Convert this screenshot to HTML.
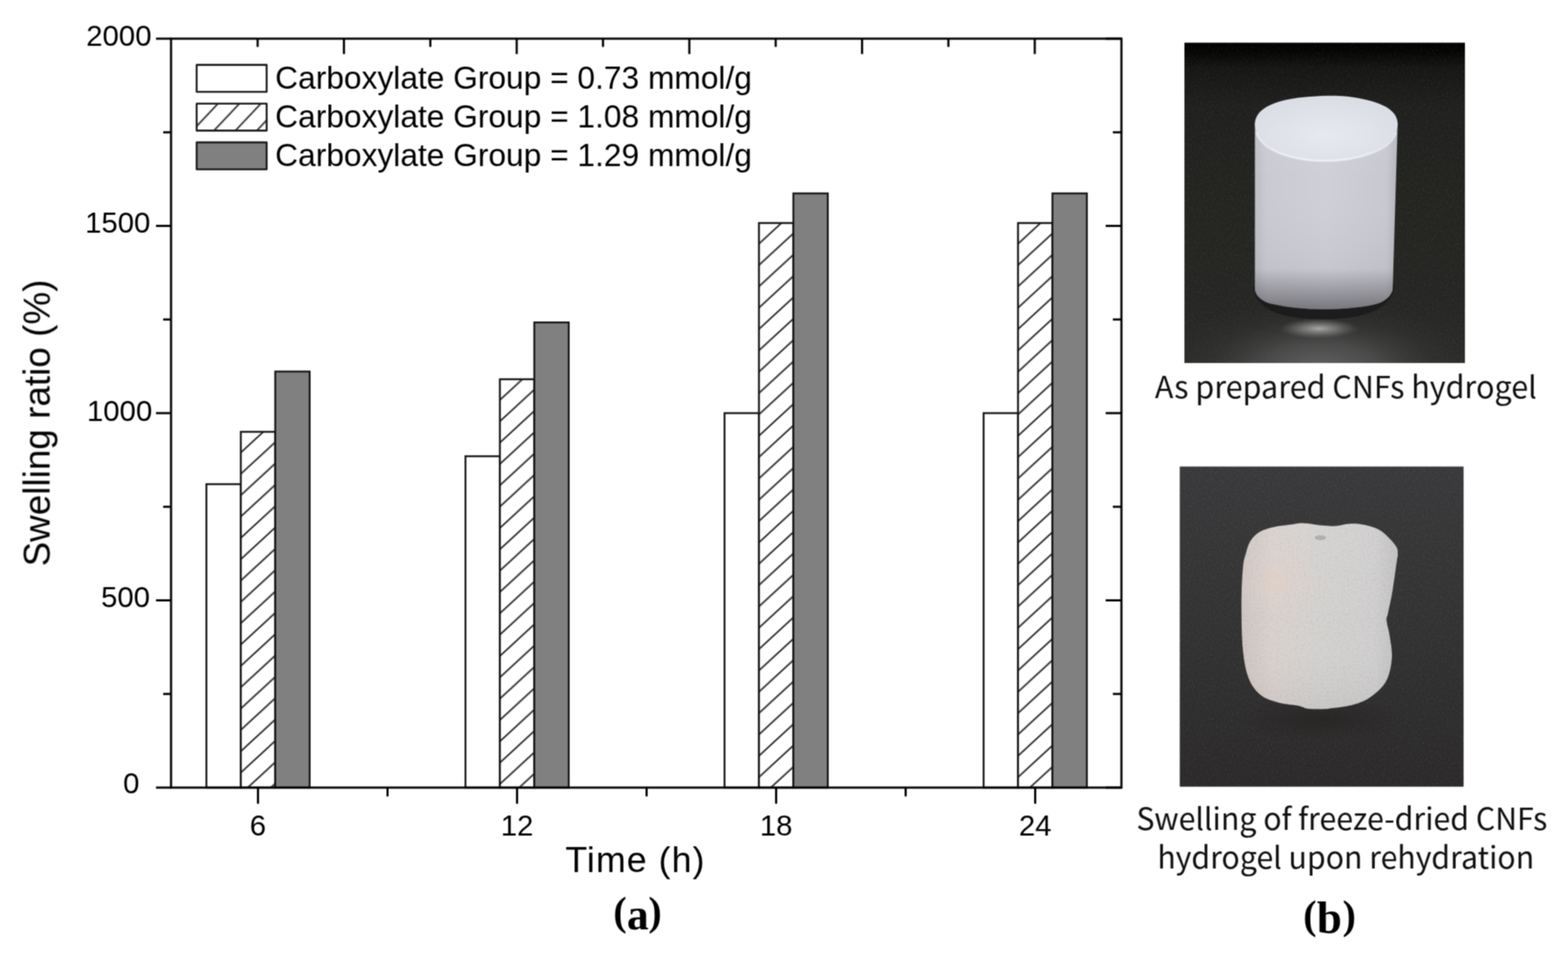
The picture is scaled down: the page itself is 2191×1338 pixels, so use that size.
<!DOCTYPE html>
<html><head><meta charset="utf-8"><title>Swelling ratio figure</title>
<style>
html,body{margin:0;padding:0;background:#fff;}
svg{display:block;}
.lt{font-family:"Liberation Sans",Arial,sans-serif;font-size:44.3px;fill:#000;}
.tk{font-family:"Liberation Sans",Arial,sans-serif;font-size:41px;fill:#000;}
.ax{font-family:"Liberation Sans",Arial,sans-serif;font-size:50px;fill:#000;}
.ayl{font-family:"Liberation Sans",Arial,sans-serif;font-size:51.5px;fill:#000;}
.pl{font-family:"Liberation Serif","Times New Roman",serif;font-size:56px;font-weight:bold;fill:#000;}
.cap{font-family:"Noto Sans CJK SC","Liberation Sans",sans-serif;font-size:42.5px;font-weight:400;fill:#111;}
</style></head><body>
<svg width="2191" height="1338" viewBox="0 0 2191 1338">
<defs>
<pattern id="h0" patternUnits="userSpaceOnUse" width="32.3210" height="29.8000" patternTransform="translate(989.754,0)"><rect x="-1" y="-1" width="34.3210" height="31.8000" fill="#fff"/><line x1="-64.642" y1="59.600" x2="32.321" y2="-29.800" stroke="#1e1e1e" stroke-width="2.1"/><line x1="-32.321" y1="59.600" x2="64.642" y2="-29.800" stroke="#1e1e1e" stroke-width="2.1"/><line x1="0.000" y1="59.600" x2="96.963" y2="-29.800" stroke="#1e1e1e" stroke-width="2.1"/></pattern><pattern id="h1" patternUnits="userSpaceOnUse" width="32.3210" height="29.8000" patternTransform="translate(1272.144,0)"><rect x="-1" y="-1" width="34.3210" height="31.8000" fill="#fff"/><line x1="-64.642" y1="59.600" x2="32.321" y2="-29.800" stroke="#1e1e1e" stroke-width="2.1"/><line x1="-32.321" y1="59.600" x2="64.642" y2="-29.800" stroke="#1e1e1e" stroke-width="2.1"/><line x1="0.000" y1="59.600" x2="96.963" y2="-29.800" stroke="#1e1e1e" stroke-width="2.1"/></pattern><pattern id="h2" patternUnits="userSpaceOnUse" width="32.3210" height="29.8000" patternTransform="translate(1397.485,0)"><rect x="-1" y="-1" width="34.3210" height="31.8000" fill="#fff"/><line x1="-64.642" y1="59.600" x2="32.321" y2="-29.800" stroke="#1e1e1e" stroke-width="2.1"/><line x1="-32.321" y1="59.600" x2="64.642" y2="-29.800" stroke="#1e1e1e" stroke-width="2.1"/><line x1="0.000" y1="59.600" x2="96.963" y2="-29.800" stroke="#1e1e1e" stroke-width="2.1"/></pattern><pattern id="h3" patternUnits="userSpaceOnUse" width="32.3210" height="29.8000" patternTransform="translate(1759.485,0)"><rect x="-1" y="-1" width="34.3210" height="31.8000" fill="#fff"/><line x1="-64.642" y1="59.600" x2="32.321" y2="-29.800" stroke="#1e1e1e" stroke-width="2.1"/><line x1="-32.321" y1="59.600" x2="64.642" y2="-29.800" stroke="#1e1e1e" stroke-width="2.1"/><line x1="0.000" y1="59.600" x2="96.963" y2="-29.800" stroke="#1e1e1e" stroke-width="2.1"/></pattern><pattern id="hl" patternUnits="userSpaceOnUse" width="29.9528" height="31.7500" patternTransform="translate(411.168,0)"><rect x="-1" y="-1" width="31.9528" height="33.7500" fill="#fff"/><line x1="-59.906" y1="63.500" x2="29.953" y2="-31.750" stroke="#1e1e1e" stroke-width="2.1"/><line x1="-29.953" y1="63.500" x2="59.906" y2="-31.750" stroke="#1e1e1e" stroke-width="2.1"/><line x1="0.000" y1="63.500" x2="89.858" y2="-31.750" stroke="#1e1e1e" stroke-width="2.1"/></pattern>
<linearGradient id="bg1" x1="0" y1="0" x2="0" y2="1">
<stop offset="0" stop-color="#000000"/><stop offset="0.03" stop-color="#060605"/><stop offset="0.08" stop-color="#161614"/><stop offset="0.2" stop-color="#20211f"/><stop offset="0.5" stop-color="#242521"/><stop offset="0.8" stop-color="#262624"/><stop offset="1" stop-color="#2a2a28"/>
</linearGradient>
<radialGradient id="spot1" cx="0.5" cy="0.5" r="0.5">
<stop offset="0" stop-color="#626262" stop-opacity="1"/><stop offset="0.35" stop-color="#505050" stop-opacity="0.85"/><stop offset="0.7" stop-color="#383838" stop-opacity="0.4"/><stop offset="1" stop-color="#303030" stop-opacity="0"/>
</radialGradient>
<radialGradient id="sh2" cx="0.5" cy="0.5" r="0.5">
<stop offset="0" stop-color="#241f1f" stop-opacity="0.6"/><stop offset="1" stop-color="#241f1f" stop-opacity="0"/>
</radialGradient>
<radialGradient id="spot1b" cx="0.5" cy="0.5" r="0.5">
<stop offset="0" stop-color="#b0b0b0" stop-opacity="0.95"/><stop offset="0.5" stop-color="#8a8a8a" stop-opacity="0.6"/><stop offset="1" stop-color="#707070" stop-opacity="0"/>
</radialGradient>
<linearGradient id="cyl1" x1="0" y1="0" x2="1" y2="0">
<stop offset="0" stop-color="#bcbcc4"/><stop offset="0.08" stop-color="#cacad2"/><stop offset="0.5" stop-color="#cecfd8"/><stop offset="0.92" stop-color="#c8c8d0"/><stop offset="1" stop-color="#b4b4bc"/>
</linearGradient>
<linearGradient id="cylv1" x1="0" y1="0" x2="0" y2="1">
<stop offset="0" stop-color="#fff" stop-opacity="0.08"/><stop offset="0.3" stop-color="#fff" stop-opacity="0"/><stop offset="0.78" stop-color="#000" stop-opacity="0.04"/><stop offset="0.92" stop-color="#000" stop-opacity="0.28"/><stop offset="1" stop-color="#000" stop-opacity="0.42"/>
</linearGradient>
<radialGradient id="top1" cx="0.5" cy="0.6" r="0.55">
<stop offset="0" stop-color="#e6e9ef"/><stop offset="1" stop-color="#dcdee6"/>
</radialGradient>
<linearGradient id="bg2" x1="0" y1="0" x2="0" y2="1">
<stop offset="0" stop-color="#3a3a3c"/><stop offset="0.5" stop-color="#333333"/><stop offset="1" stop-color="#2c2a2a"/>
</linearGradient>
<linearGradient id="obj2" x1="0" y1="0" x2="1" y2="0">
<stop offset="0" stop-color="#cdc6c3"/><stop offset="0.2" stop-color="#d9d2cf"/><stop offset="0.5" stop-color="#d4d2d0"/><stop offset="0.85" stop-color="#d0cfcf"/><stop offset="1" stop-color="#c2c0c1"/>
</linearGradient>
<linearGradient id="obj2v" x1="0" y1="0" x2="0" y2="1">
<stop offset="0" stop-color="#fff" stop-opacity="0.05"/><stop offset="0.6" stop-color="#fff" stop-opacity="0"/><stop offset="1" stop-color="#000" stop-opacity="0.05"/>
</linearGradient>
</defs>
<filter id="grain" x="0" y="0" width="100%" height="100%" color-interpolation-filters="sRGB">
<feTurbulence type="fractalNoise" baseFrequency="0.5" numOctaves="2" seed="5" result="n"/>
<feColorMatrix in="n" type="matrix" values="0.33 0.33 0.33 0 0  0.33 0.33 0.33 0 0  0.33 0.33 0.33 0 0  0 0 0 0 1" result="g0"/>
<feComponentTransfer in="g0" result="g1"><feFuncR type="linear" slope="0.22" intercept="0.39"/><feFuncG type="linear" slope="0.22" intercept="0.39"/><feFuncB type="linear" slope="0.22" intercept="0.39"/></feComponentTransfer>
<feGaussianBlur in="g1" stdDeviation="0.6" result="g"/>
<feBlend in="SourceGraphic" in2="g" mode="overlay" result="b"/>
<feComposite in="b" in2="SourceGraphic" operator="in"/>
</filter>
<filter id="grain2" x="0" y="0" width="100%" height="100%" color-interpolation-filters="sRGB">
<feTurbulence type="fractalNoise" baseFrequency="0.35" numOctaves="2" seed="11" result="n"/>
<feColorMatrix in="n" type="matrix" values="0.33 0.33 0.33 0 0  0.33 0.33 0.33 0 0  0.33 0.33 0.33 0 0  0 0 0 0 1" result="g0"/>
<feComponentTransfer in="g0" result="g"><feFuncR type="linear" slope="0.12" intercept="0.44"/><feFuncG type="linear" slope="0.12" intercept="0.44"/><feFuncB type="linear" slope="0.12" intercept="0.44"/></feComponentTransfer>
<feBlend in="SourceGraphic" in2="g" mode="overlay" result="b"/>
<feComposite in="b" in2="SourceGraphic" operator="in"/>
</filter>
<clipPath id="cp1"><rect x="1655" y="59.5" width="392" height="447.5"/></clipPath>
<clipPath id="cp2"><rect x="1648.4" y="651.5" width="396.8" height="447.3"/></clipPath>
<radialGradient id="peach" cx="0.5" cy="0.5" r="0.5">
<stop offset="0" stop-color="#e8cfc0" stop-opacity="0.45"/><stop offset="1" stop-color="#e8cfc0" stop-opacity="0"/>
</radialGradient>
<filter id="soft" x="0" y="0" width="2191" height="1338" filterUnits="userSpaceOnUse" color-interpolation-filters="sRGB"><feConvolveMatrix order="3" kernelMatrix="1 2 1 2 4 2 1 2 1" edgeMode="duplicate"/></filter>
<rect width="2191" height="1338" fill="#fff"/>
<g filter="url(#soft)">
<rect x="288.4" y="676.2" width="48.1" height="423.8" fill="#fff" stroke="#141414" stroke-width="2.6"/><rect x="336.5" y="603.1" width="48.1" height="496.9" fill="url(#h0)" stroke="#141414" stroke-width="2.6" /><rect x="384.6" y="518.9" width="48.1" height="581.1" fill="#808080" stroke="#141414" stroke-width="2.6"/><rect x="650.4" y="637.2" width="48.1" height="462.8" fill="#fff" stroke="#141414" stroke-width="2.6"/><rect x="698.5" y="529.7" width="48.1" height="570.3" fill="url(#h1)" stroke="#141414" stroke-width="2.6" /><rect x="746.6" y="450.3" width="48.1" height="649.7" fill="#808080" stroke="#141414" stroke-width="2.6"/><rect x="1012.4" y="577" width="48.1" height="523.0" fill="#fff" stroke="#141414" stroke-width="2.6"/><rect x="1060.5" y="311.5" width="48.1" height="788.5" fill="url(#h2)" stroke="#141414" stroke-width="2.6" /><rect x="1108.6" y="270.1" width="48.1" height="829.9" fill="#808080" stroke="#141414" stroke-width="2.6"/><rect x="1374.4" y="577" width="48.1" height="523.0" fill="#fff" stroke="#141414" stroke-width="2.6"/><rect x="1422.5" y="311.5" width="48.1" height="788.5" fill="url(#h3)" stroke="#141414" stroke-width="2.6" /><rect x="1470.6" y="270.1" width="48.1" height="829.9" fill="#808080" stroke="#141414" stroke-width="2.6"/>
<rect x="239.0" y="54.0" width="1328.0" height="1046.0" fill="none" stroke="#000" stroke-width="3.0"/><line x1="218" y1="54.0" x2="239.0" y2="54.0" stroke="#000" stroke-width="3.0"/><line x1="1545" y1="54.0" x2="1567.0" y2="54.0" stroke="#000" stroke-width="3.0"/><line x1="228" y1="184.8" x2="239.0" y2="184.8" stroke="#000" stroke-width="3.0"/><line x1="1555" y1="184.8" x2="1567.0" y2="184.8" stroke="#000" stroke-width="3.0"/><line x1="218" y1="315.5" x2="239.0" y2="315.5" stroke="#000" stroke-width="3.0"/><line x1="1545" y1="315.5" x2="1567.0" y2="315.5" stroke="#000" stroke-width="3.0"/><line x1="228" y1="446.2" x2="239.0" y2="446.2" stroke="#000" stroke-width="3.0"/><line x1="1555" y1="446.2" x2="1567.0" y2="446.2" stroke="#000" stroke-width="3.0"/><line x1="218" y1="577.0" x2="239.0" y2="577.0" stroke="#000" stroke-width="3.0"/><line x1="1545" y1="577.0" x2="1567.0" y2="577.0" stroke="#000" stroke-width="3.0"/><line x1="228" y1="707.8" x2="239.0" y2="707.8" stroke="#000" stroke-width="3.0"/><line x1="1555" y1="707.8" x2="1567.0" y2="707.8" stroke="#000" stroke-width="3.0"/><line x1="218" y1="838.5" x2="239.0" y2="838.5" stroke="#000" stroke-width="3.0"/><line x1="1545" y1="838.5" x2="1567.0" y2="838.5" stroke="#000" stroke-width="3.0"/><line x1="228" y1="969.2" x2="239.0" y2="969.2" stroke="#000" stroke-width="3.0"/><line x1="1555" y1="969.2" x2="1567.0" y2="969.2" stroke="#000" stroke-width="3.0"/><line x1="218" y1="1100.0" x2="239.0" y2="1100.0" stroke="#000" stroke-width="3.0"/><line x1="1545" y1="1100.0" x2="1567.0" y2="1100.0" stroke="#000" stroke-width="3.0"/><line x1="360.0" y1="54.0" x2="360.0" y2="65.5" stroke="#000" stroke-width="3.0"/><line x1="480.6" y1="54.0" x2="480.6" y2="75.5" stroke="#000" stroke-width="3.0"/><line x1="601.3" y1="54.0" x2="601.3" y2="65.5" stroke="#000" stroke-width="3.0"/><line x1="722.0" y1="54.0" x2="722.0" y2="75.5" stroke="#000" stroke-width="3.0"/><line x1="842.6" y1="54.0" x2="842.6" y2="65.5" stroke="#000" stroke-width="3.0"/><line x1="963.2" y1="54.0" x2="963.2" y2="75.5" stroke="#000" stroke-width="3.0"/><line x1="1083.9" y1="54.0" x2="1083.9" y2="65.5" stroke="#000" stroke-width="3.0"/><line x1="1204.6" y1="54.0" x2="1204.6" y2="75.5" stroke="#000" stroke-width="3.0"/><line x1="1325.2" y1="54.0" x2="1325.2" y2="65.5" stroke="#000" stroke-width="3.0"/><line x1="1445.9" y1="54.0" x2="1445.9" y2="75.5" stroke="#000" stroke-width="3.0"/><line x1="360.5" y1="1100.0" x2="360.5" y2="1122.5" stroke="#000" stroke-width="3.0"/><line x1="541.5" y1="1100.0" x2="541.5" y2="1112.3" stroke="#000" stroke-width="3.0"/><line x1="722.5" y1="1100.0" x2="722.5" y2="1122.5" stroke="#000" stroke-width="3.0"/><line x1="903.5" y1="1100.0" x2="903.5" y2="1112.3" stroke="#000" stroke-width="3.0"/><line x1="1084.5" y1="1100.0" x2="1084.5" y2="1122.5" stroke="#000" stroke-width="3.0"/><line x1="1265.5" y1="1100.0" x2="1265.5" y2="1112.3" stroke="#000" stroke-width="3.0"/><line x1="1446.5" y1="1100.0" x2="1446.5" y2="1122.5" stroke="#000" stroke-width="3.0"/>
<rect x="274.8" y="90.6" width="97.8" height="37.6" fill="#fff" stroke="#141414" stroke-width="2.6" stroke-linejoin="round"/><text x="384.6" y="123.9" class="lt">Carboxylate Group = 0.73 mmol/g</text><rect x="274.8" y="144.8" width="97.8" height="37.6" fill="url(#hl)" stroke="#141414" stroke-width="2.6" stroke-linejoin="round"/><text x="384.6" y="178.0" class="lt">Carboxylate Group = 1.08 mmol/g</text><rect x="274.8" y="198.9" width="97.8" height="37.6" fill="#808080" stroke="#141414" stroke-width="2.6" stroke-linejoin="round"/><text x="384.6" y="232.1" class="lt">Carboxylate Group = 1.29 mmol/g</text>
<text x="194.9" y="1107.8" class="tk" text-anchor="end">0</text><text x="209.7" y="848.4" class="tk" text-anchor="end">500</text><text x="212.7" y="587.5" class="tk" text-anchor="end">1000</text><text x="210.1" y="324.9" class="tk" text-anchor="end">1500</text><text x="211.7" y="63.6" class="tk" text-anchor="end">2000</text>
<text x="360.5" y="1167.2" class="tk" text-anchor="middle">6</text><text x="722.5" y="1167.2" class="tk" text-anchor="middle">12</text><text x="1084.5" y="1167.2" class="tk" text-anchor="middle">18</text><text x="1446.5" y="1167.2" class="tk" text-anchor="middle">24</text>
<text class="ax" x="790" y="1217.7" textLength="194.3" lengthAdjust="spacing">Time (h)</text>
<text class="ayl" transform="translate(69.3,590.8) rotate(-90)" text-anchor="middle">Swelling ratio (%)</text>
<text class="pl"><tspan x="857.0" y="1292.3">(</tspan><tspan x="876.0" y="1297.6" style="font-size:61px">a</tspan><tspan x="906.0" y="1292.3">)</tspan></text>
<text class="pl"><tspan x="1821.0" y="1297">(</tspan><tspan x="1840.0" y="1302.6" style="font-size:63px">b</tspan><tspan x="1876.0" y="1297">)</tspan></text>

<g clip-path="url(#cp1)">
<rect x="1655" y="59.5" width="392" height="447.5" fill="url(#bg1)" filter="url(#grain)"/>
<ellipse cx="1846" cy="515" rx="230" ry="100" fill="url(#spot1)"/>
<ellipse cx="1843" cy="459" rx="55" ry="14" fill="url(#spot1b)"/>
<path d="M1751,400 Q1754,446 1850,446 Q1944,445 1949,398 Z" fill="#1c1c1c"/>
<path d="M1753.5,172 L1753.5,405 Q1756,418 1775,424 Q1810,432 1850,432 Q1900,431 1925,424 Q1942,418 1946,405 L1953,172 Z" fill="url(#cyl1)"/>
<path d="M1753.5,172 L1753.5,405 Q1756,418 1775,424 Q1810,432 1850,432 Q1900,431 1925,424 Q1942,418 1946,405 L1953,172 Z" fill="url(#cylv1)"/>
<path d="M1753.5,172 C1755,150 1785,138 1830,135 C1860,133 1880,133 1905,138.5 C1935,145 1952,155 1953,172 C1953,205 1900,225.7 1851,225.7 C1800,225.7 1753.5,205 1753.5,172 Z" fill="url(#top1)"/>
<path d="M1756,186 C1764,210 1805,224.5 1851,224.5 C1898,224.5 1942,210 1950.5,186" fill="none" stroke="#f2f3f8" stroke-width="3" stroke-linecap="round" opacity="0.7"/>
</g>

<text class="cap" x="1613.7" y="556.2" textLength="533.7" lengthAdjust="spacingAndGlyphs">As prepared CNFs hydrogel</text>

<g clip-path="url(#cp2)">
<rect x="1648.4" y="651.5" width="396.8" height="447.3" fill="url(#bg2)" filter="url(#grain)"/>
<ellipse cx="1846" cy="1005" rx="120" ry="30" fill="url(#sh2)"/>
<path d="M1759.7,743.0 C1765.2,739.7 1772.7,737.7 1780.0,736.0 C1787.3,734.3 1797.0,733.5 1803.7,732.6 C1810.4,731.7 1813.5,730.4 1820.4,730.5 C1827.3,730.6 1837.3,732.8 1845.0,733.5 C1852.7,734.2 1859.7,734.9 1866.4,734.6 C1873.1,734.3 1878.7,731.8 1885.0,731.5 C1891.3,731.2 1896.7,731.0 1904.0,732.6 C1911.3,734.2 1921.3,736.1 1929.0,741.0 C1936.7,745.9 1946.0,756.2 1950.0,761.8 C1954.0,767.4 1953.0,770.9 1953.3,774.4 C1953.6,777.9 1953.2,774.4 1952.0,782.8 C1950.8,791.2 1948.0,812.4 1946.0,824.6 C1944.0,836.8 1941.1,849.0 1939.7,856.0 C1938.3,863.0 1937.2,861.2 1937.6,866.4 C1937.9,871.6 1940.6,878.7 1941.8,887.4 C1943.0,896.1 1945.7,908.3 1945.0,918.7 C1944.3,929.1 1942.0,941.3 1937.6,950.0 C1933.2,958.7 1926.0,965.4 1918.7,971.0 C1911.4,976.6 1904.0,980.5 1893.6,983.6 C1883.1,986.8 1866.8,988.9 1856.0,989.9 C1845.2,990.9 1835.8,990.6 1828.8,989.9 C1821.8,989.2 1821.0,987.1 1814.0,985.7 C1807.0,984.3 1795.7,984.0 1787.0,981.5 C1778.3,979.0 1768.8,976.6 1761.8,971.0 C1754.8,965.4 1749.2,958.5 1745.0,948.0 C1740.8,937.5 1738.4,925.4 1736.7,908.3 C1735.0,891.2 1734.6,864.7 1734.6,845.5 C1734.6,826.3 1735.6,805.4 1736.7,793.2 C1737.8,781.0 1739.2,778.6 1741.0,772.3 C1742.8,766.0 1744.1,760.5 1747.2,755.6 C1750.3,750.7 1754.2,746.3 1759.7,743.0 Z" fill="url(#obj2)" filter="url(#grain2)"/>
<path d="M1759.7,743.0 C1765.2,739.7 1772.7,737.7 1780.0,736.0 C1787.3,734.3 1797.0,733.5 1803.7,732.6 C1810.4,731.7 1813.5,730.4 1820.4,730.5 C1827.3,730.6 1837.3,732.8 1845.0,733.5 C1852.7,734.2 1859.7,734.9 1866.4,734.6 C1873.1,734.3 1878.7,731.8 1885.0,731.5 C1891.3,731.2 1896.7,731.0 1904.0,732.6 C1911.3,734.2 1921.3,736.1 1929.0,741.0 C1936.7,745.9 1946.0,756.2 1950.0,761.8 C1954.0,767.4 1953.0,770.9 1953.3,774.4 C1953.6,777.9 1953.2,774.4 1952.0,782.8 C1950.8,791.2 1948.0,812.4 1946.0,824.6 C1944.0,836.8 1941.1,849.0 1939.7,856.0 C1938.3,863.0 1937.2,861.2 1937.6,866.4 C1937.9,871.6 1940.6,878.7 1941.8,887.4 C1943.0,896.1 1945.7,908.3 1945.0,918.7 C1944.3,929.1 1942.0,941.3 1937.6,950.0 C1933.2,958.7 1926.0,965.4 1918.7,971.0 C1911.4,976.6 1904.0,980.5 1893.6,983.6 C1883.1,986.8 1866.8,988.9 1856.0,989.9 C1845.2,990.9 1835.8,990.6 1828.8,989.9 C1821.8,989.2 1821.0,987.1 1814.0,985.7 C1807.0,984.3 1795.7,984.0 1787.0,981.5 C1778.3,979.0 1768.8,976.6 1761.8,971.0 C1754.8,965.4 1749.2,958.5 1745.0,948.0 C1740.8,937.5 1738.4,925.4 1736.7,908.3 C1735.0,891.2 1734.6,864.7 1734.6,845.5 C1734.6,826.3 1735.6,805.4 1736.7,793.2 C1737.8,781.0 1739.2,778.6 1741.0,772.3 C1742.8,766.0 1744.1,760.5 1747.2,755.6 C1750.3,750.7 1754.2,746.3 1759.7,743.0 Z" fill="url(#obj2v)"/>
<clipPath id="cpo2"><path d="M1759.7,743.0 C1765.2,739.7 1772.7,737.7 1780.0,736.0 C1787.3,734.3 1797.0,733.5 1803.7,732.6 C1810.4,731.7 1813.5,730.4 1820.4,730.5 C1827.3,730.6 1837.3,732.8 1845.0,733.5 C1852.7,734.2 1859.7,734.9 1866.4,734.6 C1873.1,734.3 1878.7,731.8 1885.0,731.5 C1891.3,731.2 1896.7,731.0 1904.0,732.6 C1911.3,734.2 1921.3,736.1 1929.0,741.0 C1936.7,745.9 1946.0,756.2 1950.0,761.8 C1954.0,767.4 1953.0,770.9 1953.3,774.4 C1953.6,777.9 1953.2,774.4 1952.0,782.8 C1950.8,791.2 1948.0,812.4 1946.0,824.6 C1944.0,836.8 1941.1,849.0 1939.7,856.0 C1938.3,863.0 1937.2,861.2 1937.6,866.4 C1937.9,871.6 1940.6,878.7 1941.8,887.4 C1943.0,896.1 1945.7,908.3 1945.0,918.7 C1944.3,929.1 1942.0,941.3 1937.6,950.0 C1933.2,958.7 1926.0,965.4 1918.7,971.0 C1911.4,976.6 1904.0,980.5 1893.6,983.6 C1883.1,986.8 1866.8,988.9 1856.0,989.9 C1845.2,990.9 1835.8,990.6 1828.8,989.9 C1821.8,989.2 1821.0,987.1 1814.0,985.7 C1807.0,984.3 1795.7,984.0 1787.0,981.5 C1778.3,979.0 1768.8,976.6 1761.8,971.0 C1754.8,965.4 1749.2,958.5 1745.0,948.0 C1740.8,937.5 1738.4,925.4 1736.7,908.3 C1735.0,891.2 1734.6,864.7 1734.6,845.5 C1734.6,826.3 1735.6,805.4 1736.7,793.2 C1737.8,781.0 1739.2,778.6 1741.0,772.3 C1742.8,766.0 1744.1,760.5 1747.2,755.6 C1750.3,750.7 1754.2,746.3 1759.7,743.0 Z"/></clipPath><ellipse cx="1782" cy="812" rx="60" ry="50" fill="url(#peach)" clip-path="url(#cpo2)"/>

<ellipse cx="1845" cy="751" rx="8" ry="3.5" fill="#8f8d8d" opacity="0.5"/>
</g>

<text class="cap" x="1587.9" y="1159" textLength="574.2" lengthAdjust="spacingAndGlyphs">Swelling of freeze-dried CNFs</text>
<text class="cap" x="1617.2" y="1213" textLength="526.5" lengthAdjust="spacingAndGlyphs">hydrogel upon rehydration</text>
</g>
</svg>
</body></html>
